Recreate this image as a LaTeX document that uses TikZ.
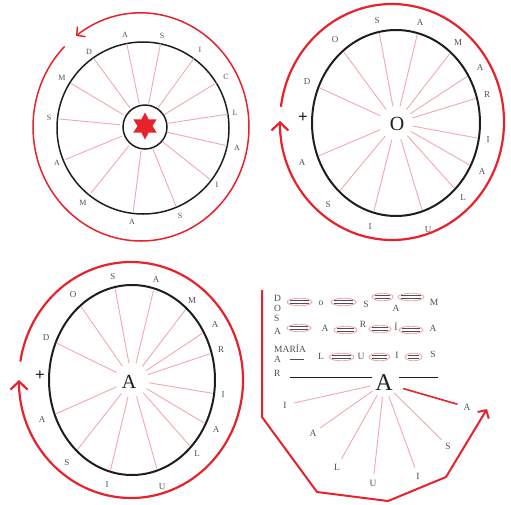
\documentclass[tikz,border=0pt]{standalone}
\usepackage{fontspec}
\setmainfont{Liberation Serif}
\usetikzlibrary{arrows.meta,shapes.geometric,calc}
\definecolor{rd}{RGB}{232,34,44}
\definecolor{pk}{RGB}{242,168,172}
\definecolor{dk}{RGB}{30,30,30}
\definecolor{gy}{RGB}{80,80,80}
\tikzset{
  redthin/.style={draw=rd,line width=1.5pt},
  redthick/.style={draw=rd,line width=2.2pt},
  barb/.style={-{Straight Barb[length=6pt,width=13pt]}},
  bigbarb/.style={-{Straight Barb[length=8pt,width=17pt]}},
  spoke/.style={draw=pk,line width=0.9pt},
  blackthin/.style={draw=dk,line width=1.5pt},
  blackthick/.style={draw=dk,line width=2pt},
  lettA/.style={text=gy,font=\fontsize{8}{8}\selectfont,inner sep=0pt},
  lettB/.style={text=gy,font=\fontsize{9}{9}\selectfont,inner sep=0pt},
  lettC/.style={text=gy,font=\fontsize{9.5}{9.5}\selectfont,inner sep=0pt},
  bigl/.style={text=dk,font=\fontsize{20}{20}\selectfont,inner sep=0pt},
  plus/.style={text=dk,font=\fontsize{17}{17}\selectfont\bfseries,inner sep=0pt},
  capline/.style={draw=gy,line width=0.6pt},
  capring/.style={draw=pk,line width=0.9pt}
}
\newcommand\capsule[3]{%
  \draw[capring] ({(#1+#2)/2},#3) ellipse ({(#2-#1)/2} and 3.8);
  \draw[capline] ({#1+3},{#3-1.3}) -- ({#2-3},{#3-1.3});
  \draw[capline] ({#1+3},{#3+1.3}) -- ({#2-3},{#3+1.3});
}
\begin{document}
\begin{tikzpicture}[x=1pt,y=-1pt]
\useasboundingbox (0,0) rectangle (511,504);

% ---------------- Panel 1 ----------------
\coordinate (c1) at (144,127);
\draw[redthin,barb] ($(141,127)+(-135:108 and 114)$) arc[start angle=-135,end angle=-487,x radius=108,y radius=114];
\draw[blackthin] (143,128) circle (86);
\draw[blackthin] (145,127) circle (22);
\node[star,star points=6,star point ratio=1.8,fill=rd,minimum size=27pt,inner sep=0pt] (star) at (145,126) {};
\foreach \lx/\ly/\t [count=\i] in {125/35/A,162/36/S,200/50/I,226/77/C,235/113/L,237/148/A,217/185/I,180/216/S,132/222/A,83/203/M,57/163/A,49/118/S,62/78/M,89/52/D}{
  \pgfmathsetmacro\dx{\lx-144}
  \pgfmathsetmacro\dy{\ly-127}
  \pgfmathsetmacro\L{veclen(\dx,\dy)}
  \draw[spoke] ({144+24*(\dx)/\L},{127+24*(\dy)/\L}) -- ({144+85*(\dx)/\L},{127+85*(\dy)/\L});
  \node[lettA] (pa\i) at (\lx,\ly) {\t};
}

% ---------------- Panel 2 ----------------
\coordinate (c2) at (396,123);
\draw[redthick,bigbarb] ($(392,122)+(-172.6:112 and 118)$) arc[start angle=-172.6,end angle=180.5,x radius=112,y radius=118];
\draw[blackthick] (c2) ellipse (84 and 93);
\node[bigl] (o2) at (397,124) {O};
\node[plus] (plus2) at (303,118) {+};
\foreach \lx/\ly/\t [count=\i] in {307/82/D,335/40/O,377/21/S,420/23/A,458/43/M,480/68/A,487/95/R,488/140/I,482/172/A,463/198/L,428/230/U,370/227/I,328/205/S,302/163/A}{
  \pgfmathsetmacro\dx{\lx-396}
  \pgfmathsetmacro\dy{\ly-123}
  \pgfmathsetmacro\L{veclen(\dx,\dy)}
  \pgfmathsetmacro\so{0.985/veclen((\dx)/84,(\dy)/93)}
  \draw[spoke] ({396+17*(\dx)/\L},{123+17*(\dy)/\L}) -- ({396+\so*(\dx)},{123+\so*(\dy)});
  \node[lettB] (pb\i) at (\lx,\ly) {\t};
}

% ---------------- Panel 3 ----------------
\coordinate (c3) at (132,380);
\draw[redthick,bigbarb] ($(131,380)+(-171:112 and 118)$) arc[start angle=-171,end angle=180,x radius=112,y radius=118];
\draw[blackthick] (c3) ellipse (83 and 95);
\node[bigl] (a3) at (129,382) {A};
\node[plus] (plus3) at (40,376) {+};
\foreach \lx/\ly/\t [count=\i] in {46/338/D,73/295/O,113/277/S,156/280/A,192/301/M,215/325/A,221/350/R,223/395/I,216/430/A,197/454/L,162/487/U,107/485/I,67/463/S,42/420/A}{
  \pgfmathsetmacro\dx{\lx-132}
  \pgfmathsetmacro\dy{\ly-380}
  \pgfmathsetmacro\L{veclen(\dx,\dy)}
  \pgfmathsetmacro\so{0.985/veclen((\dx)/83,(\dy)/95)}
  \draw[spoke] ({132+17*(\dx)/\L},{380+17*(\dy)/\L}) -- ({132+\so*(\dx)},{380+\so*(\dy)});
  \node[lettB] (pc\i) at (\lx,\ly) {\t};
}

% ---------------- Panel 4 ----------------
% left column
\foreach \ly/\t [count=\i] in {298/D,308/O,318/S,331/A,348/MARÍA,359/A,373/R}{
  \node[lettC,anchor=west] (col\i) at (274,\ly) {\t};
}
% row 1
\capsule{287}{312}{302}
\node[lettC] (r1a) at (321,303) {o};
\capsule{331}{356}{302}
\node[lettC] (r1b) at (366,304) {S};
\capsule{372}{393}{297}
\node[lettC] (r1c) at (396,308) {A};
\capsule{398}{424}{297}
\node[lettC] (r1d) at (434,302) {M};
% row 2
\capsule{287}{311}{328}
\node[lettC] (r2a) at (325,328) {A};
\capsule{334}{357}{330}
\node[lettC] (r2b) at (363,324) {R};
\capsule{369}{391}{329}
\node[lettC] (r2c) at (396,326) {Í};
\capsule{399}{423}{330}
\node[lettC] (r2d) at (433,328) {A};
% row 3
\draw[capline] (290,359) -- (304,359);
\node[lettC] (r3a) at (321,356) {L};
\capsule{329}{354}{357}
\node[lettC] (r3b) at (361,356) {U};
\capsule{369}{390}{357}
\node[lettC] (r3c) at (397,355) {I};
\capsule{405}{422}{357}
\node[lettC] (r3d) at (433,354) {S};
% row 4
\node[text=dk,font=\fontsize{24}{24}\selectfont,inner sep=0pt] (a4) at (384,383) {A};
\draw[draw=dk,line width=0.8pt] (290,377) -- (372,377);
\draw[draw=dk,line width=0.8pt] (399,377) -- (438,377);
% fan
\node[lettC] (f1) at (285,405) {I};
\node[lettC] (f2) at (313,433) {A};
\node[lettC] (f3) at (337,467) {L};
\node[lettC] (f4) at (373,483) {U};
\node[lettC] (f5) at (418,476) {I};
\node[lettC] (f6) at (448,446) {S};
\node[lettC] (f7) at (467,407) {A};
\foreach \k in {1,...,6}{
  \draw[spoke] ($(f\k)!9pt!(a4)$) -- ($(a4)!14pt!(f\k)$);
}
\draw[draw=rd,line width=1.6pt] ($(a4)!20pt!(f7)$) -- ($(f7)!10pt!(a4)$);
% red polyline
\coordinate (q1) at (262,290);
\coordinate (q2) at (262,417);
\coordinate (q3) at (317,492);
\coordinate (q4) at (388,501);
\coordinate (q5) at (446,477);
\coordinate (q6) at (487,409);
\draw[redthick,line width=2pt,line join=round,barb] (q1) -- (q2) -- (q3) -- (q4) -- (q5) -- (q6);
\end{tikzpicture}
\end{document}
